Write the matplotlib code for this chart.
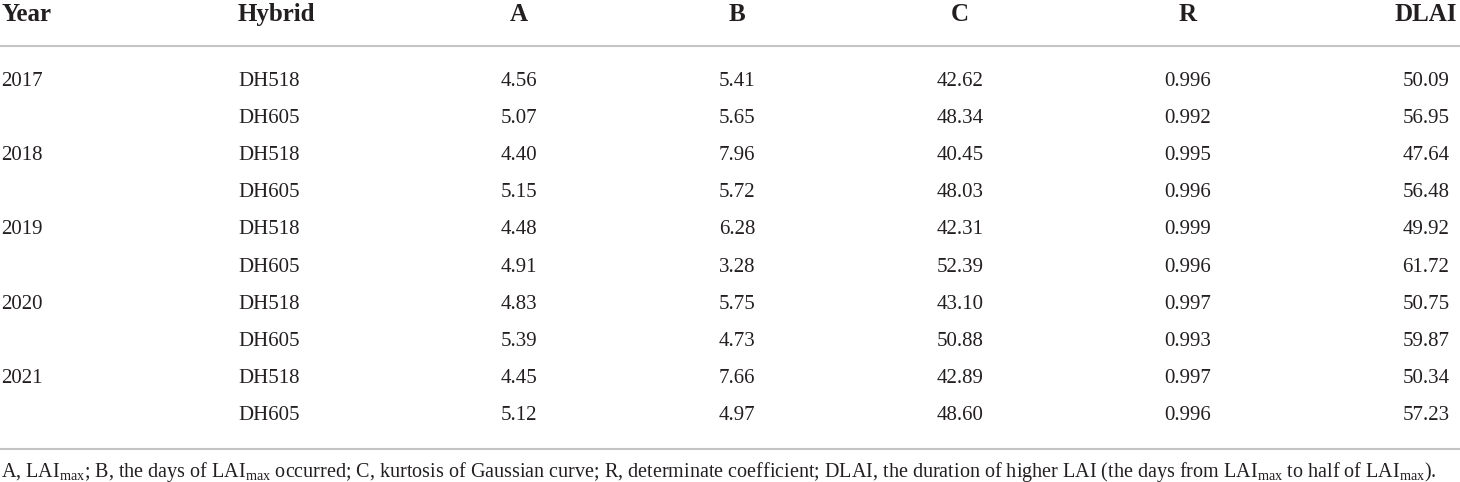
import matplotlib
matplotlib.use("Agg")
from matplotlib import pyplot as plt

# table content
columns = ["Year", "Hybrid", "A", "B", "C", "R", "DLAI"]
years = ["2017", "", "2018", "", "2019", "", "2020", "", "2021", ""]
hybrids = ["DH518", "DH605"] * 5
a_vals = ["4.56", "5.07", "4.40", "5.15", "4.48", "4.91", "4.83", "5.39", "4.45", "5.12"]
b_vals = ["5.41", "5.65", "7.96", "5.72", "6.28", "3.28", "5.75", "4.73", "7.66", "4.97"]
c_vals = ["42.62", "48.34", "40.45", "48.03", "42.31", "52.39", "43.10", "50.88", "42.89", "48.60"]
r_vals = ["0.996", "0.992", "0.995", "0.996", "0.999", "0.996", "0.997", "0.993", "0.997", "0.996"]
dlai_vals = ["50.09", "56.95", "47.64", "56.48", "49.92", "61.72", "50.75", "59.87", "50.34", "57.23"]
footnote = (r"A, LAI$_{\mathrm{max}}$; B, the days of LAI$_{\mathrm{max}}$ occurred; "
            r"C, kurtosis of Gaussian curve; R, determinate coefficient; "
            r"DLAI, the duration of higher LAI (the days from LAI$_{\mathrm{max}}$ "
            r"to half of LAI$_{\mathrm{max}}$).")

plt.rcParams["font.family"] = "Liberation Serif"
plt.rcParams["mathtext.fontset"] = "custom"
plt.rcParams["mathtext.rm"] = "Liberation Serif"
plt.rcParams["mathtext.it"] = "Liberation Serif:italic"

W, H = 1460, 482
fig = plt.figure(figsize=(W / 100, H / 100), dpi=100)
ax = fig.add_axes([0, 0, 1, 1])
ax.set_xlim(0, W)
ax.set_ylim(H, 0)
ax.axis("off")

txt = "#231f20"
line_col = "#c4c4c4"

# column x positions and alignment
col_x = [1, 238, 519, 737, 960, 1188, 1426]
col_ha = ["left", "left", "center", "center", "center", "center", "center"]

# header
for name, x, ha in zip(columns, col_x, col_ha):
    ax.text(x, 21, name, ha=ha, va="baseline", fontsize=18, fontweight="bold", color=txt)

ax.plot([0, W], [46, 46], color=line_col, lw=1.5, solid_capstyle="butt")

# body
cols = [years, hybrids, a_vals, b_vals, c_vals, r_vals, dlai_vals]
row_h = 37.1
for i in range(len(hybrids)):
    y = 86 + i * row_h
    for vals, x, ha in zip(cols, col_x, col_ha):
        ax.text(x, y, vals[i], ha=ha, va="baseline", fontsize=15, color=txt)

ax.plot([0, W], [449, 449], color=line_col, lw=1.5, solid_capstyle="butt")

ax.text(1, 477, footnote, ha="left", va="baseline", fontsize=14.5, color=txt)

fig.savefig("out.png", dpi=100)
